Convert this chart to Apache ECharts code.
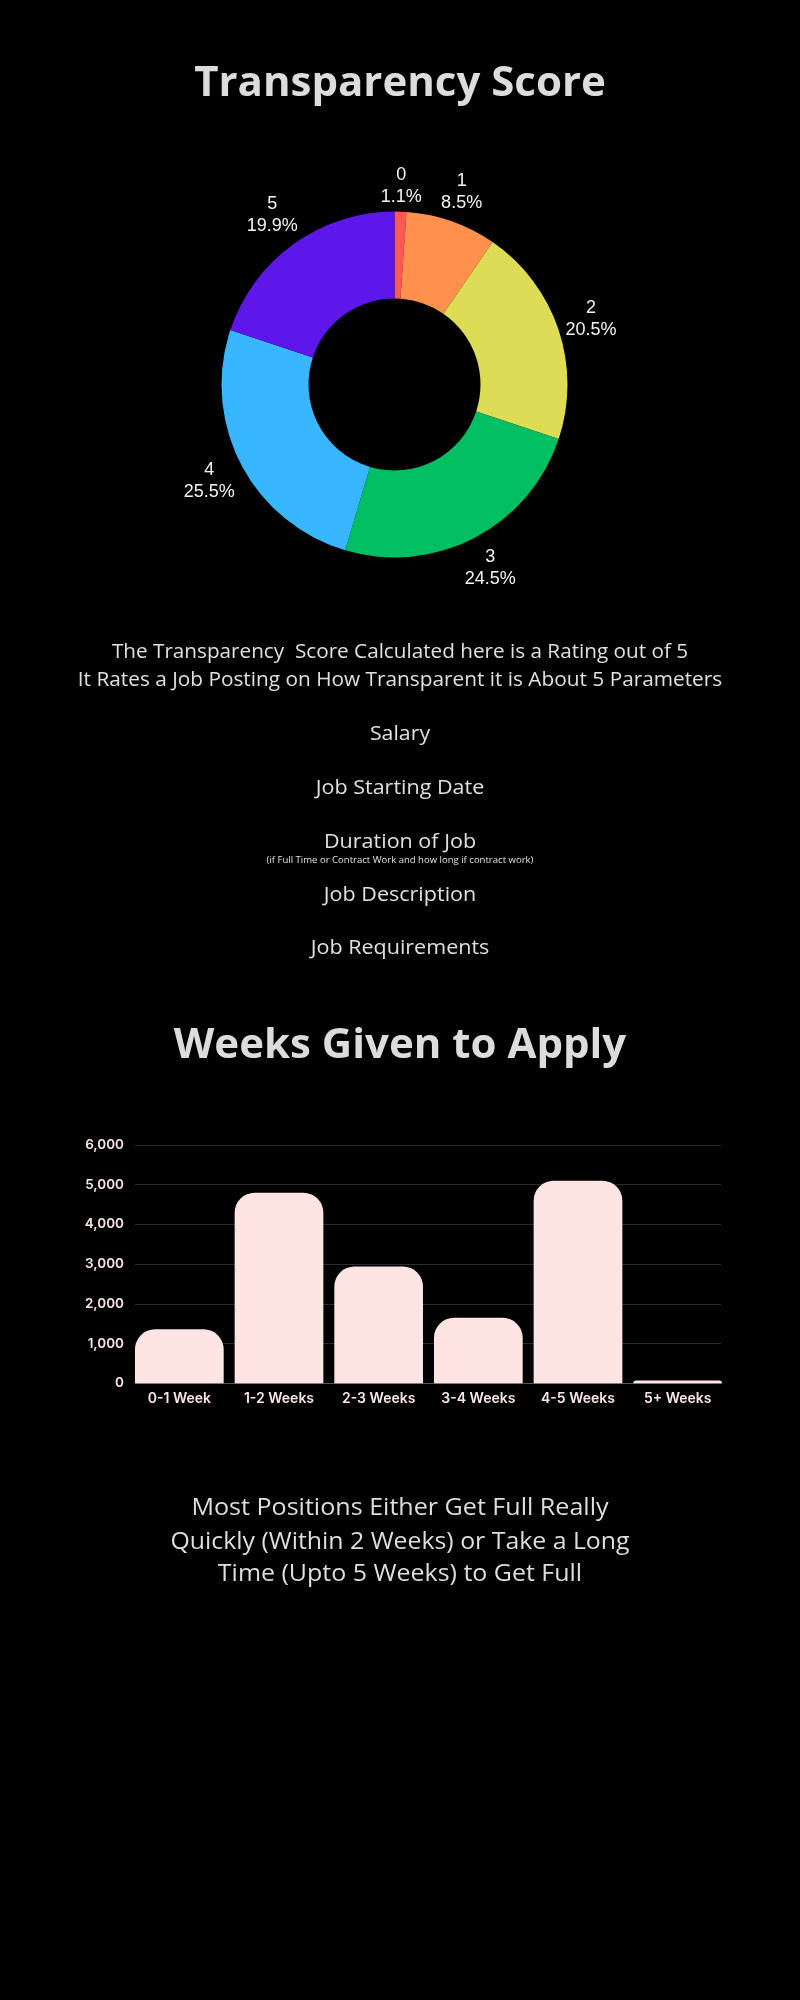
<!DOCTYPE html>
<html>
<head>
<meta charset="utf-8">
<script src="https://cdn.jsdelivr.net/npm/echarts@6/dist/echarts.min.js"></script>
<style>
html,body{margin:0;padding:0;background:#000;}
#c{width:800px;height:2000px;}
</style>
</head>
<body>
<div id="c"></div>
<script>
// ---- Data ----
const scoreLabels = ['0', '1', '2', '3', '4', '5'];
const scorePercents = [1.1, 8.5, 20.5, 24.5, 25.5, 19.9];
const scoreColors = ['#ff5757', '#ff914d', '#dcdc55', '#00bf63', '#38b6ff', '#5e17eb'];

const weekCategories = ['0-1 Week', '1-2 Weeks', '2-3 Weeks', '3-4 Weeks', '4-5 Weeks', '5+ Weeks'];
const weekCounts = [1360, 4800, 2940, 1650, 5100, 70];
const yTicks = [0, 1000, 2000, 3000, 4000, 5000, 6000];

const introLines = [
  'The Transparency  Score Calculated here is a Rating out of 5',
  'It Rates a Job Posting on How Transparent it is About 5 Parameters'
];
const params = ['Salary', 'Job Starting Date', 'Duration of Job', 'Job Description', 'Job Requirements'];
const durationNote = '(if Full Time or Contract Work and how long if contract work)';
const conclusion = [
  'Most Positions Either Get Full Really',
  'Quickly (Within 2 Weeks) or Take a Long',
  'Time (Upto 5 Weeks) to Get Full'
];

const chart = echarts.init(document.getElementById('c'), null, {renderer: 'canvas'});

const bodyFont = '"Open Sans", sans-serif';
const txt = (text, y, size, weight, fill, sx) => ({
  type: 'text', x: 400, y: y, scaleX: sx || 1, originX: 0, originY: 0,
  style: {text: text, fontSize: size, fontWeight: weight, fontFamily: bodyFont,
          fill: fill, align: 'center', verticalAlign: 'middle'}
});

const graphics = [
  txt('Transparency Score', 84, 42, 'bold', '#dcdcdc'),
  txt(introLines[0], 652, 20, 'normal', '#e0e0e0', 1.035),
  txt(introLines[1], 680, 20, 'normal', '#e0e0e0', 1.04),
  txt(params[0], 734, 20.5, 'normal', '#e0e0e0', 1.04),
  txt(params[1], 788, 20.5, 'normal', '#e0e0e0', 1.05),
  txt(params[2], 842, 20.5, 'normal', '#e0e0e0', 1.05),
  txt(durationNote, 860, 9, 'normal', '#e0e0e0', 1.06),
  txt(params[3], 895, 20.5, 'normal', '#e0e0e0', 1.05),
  txt(params[4], 948, 20.5, 'normal', '#e0e0e0', 1.05),
  txt('Weeks Given to Apply', 1046, 42, 'bold', '#dcdcdc'),
  txt(conclusion[0], 1508, 24, 'normal', '#dedede', 1.045),
  txt(conclusion[1], 1542, 24, 'normal', '#dedede', 1.035),
  txt(conclusion[2], 1574, 24, 'normal', '#dedede', 1.04)
];

const pieCenter = [394.5, 384.5];
const labelAnchorRadius = 176;

const pieData = scoreLabels.map((n, i) => ({name: n, value: scorePercents[i], itemStyle: {color: scoreColors[i]}}));

const axisFont = {color: '#fbe6e6', fontWeight: 600, fontFamily: 'Inter, sans-serif'};

chart.setOption({
  backgroundColor: '#000000',
  animation: false,
  graphic: graphics,
  grid: [
    {left: 129.5, right: 72.5, top: 1145, height: 238.3, containLabel: false},
    {left: 135, right: 79, top: 1145, height: 238.3, containLabel: false}
  ],
  xAxis: [
    {
      type: 'category', data: weekCategories, gridIndex: 0,
      axisLine: {show: false}, axisTick: {show: false},
      axisLabel: Object.assign({margin: 8, fontSize: 14}, axisFont)
    },
    {
      type: 'category', data: weekCategories, gridIndex: 1,
      axisLine: {show: true, lineStyle: {color: '#5f5656', width: 1}},
      axisTick: {show: false}, axisLabel: {show: false}
    }
  ],
  yAxis: [
    {
      type: 'value', gridIndex: 0, min: yTicks[0], max: yTicks[yTicks.length - 1], interval: 1000,
      show: false
    },
    {
      type: 'value', gridIndex: 1, min: yTicks[0], max: yTicks[yTicks.length - 1], interval: 1000,
      axisLine: {show: false}, axisTick: {show: false},
      splitLine: {lineStyle: {color: '#2b2b2b', width: 1}},
      axisLabel: Object.assign({margin: 11, fontSize: 13.5, formatter: v => v.toLocaleString('en-US')}, axisFont)
    }
  ],
  series: [
    {
      type: 'pie', center: pieCenter, radius: [86, 173], startAngle: 90, clockwise: true,
      silent: true, label: {show: false}, labelLine: {show: false},
      itemStyle: {borderWidth: 0},
      data: pieData
    },
    {
      type: 'pie', center: pieCenter, radius: [198, 216], startAngle: 90, clockwise: true,
      silent: true, minShowLabelAngle: 0,
      itemStyle: {color: 'rgba(0,0,0,0)', borderWidth: 0},
      label: {show: true, position: 'inside', formatter: '{b}\n{d}%', color: '#f4f4f4',
        fontSize: 18, lineHeight: 22, fontFamily: '"Liberation Sans", Arial, sans-serif', align: 'center'},
      labelLine: {show: false},
      labelLayout: function (p) {
        const r = p.labelRect;
        const lx = r.x + r.width / 2, ly = r.y + r.height / 2;
        const vx = lx - pieCenter[0], vy = ly - pieCenter[1];
        const d = Math.hypot(vx, vy);
        const ux = vx / d, uy = vy / d;
        const target = labelAnchorRadius + Math.abs(ux) * r.width / 2 + Math.abs(uy) * r.height / 2;
        return {dx: ux * (target - d), dy: uy * (target - d)};
      },
      data: scoreLabels.map((n, i) => ({name: n, value: scorePercents[i]}))
    },
    {
      type: 'bar', data: weekCounts, xAxisIndex: 0, yAxisIndex: 0, barCategoryGap: '11%',
      itemStyle: {color: '#ffe4e4', borderRadius: [20, 20, 0, 0]},
      silent: true
    }
  ]
});
</script>
</body>
</html>
